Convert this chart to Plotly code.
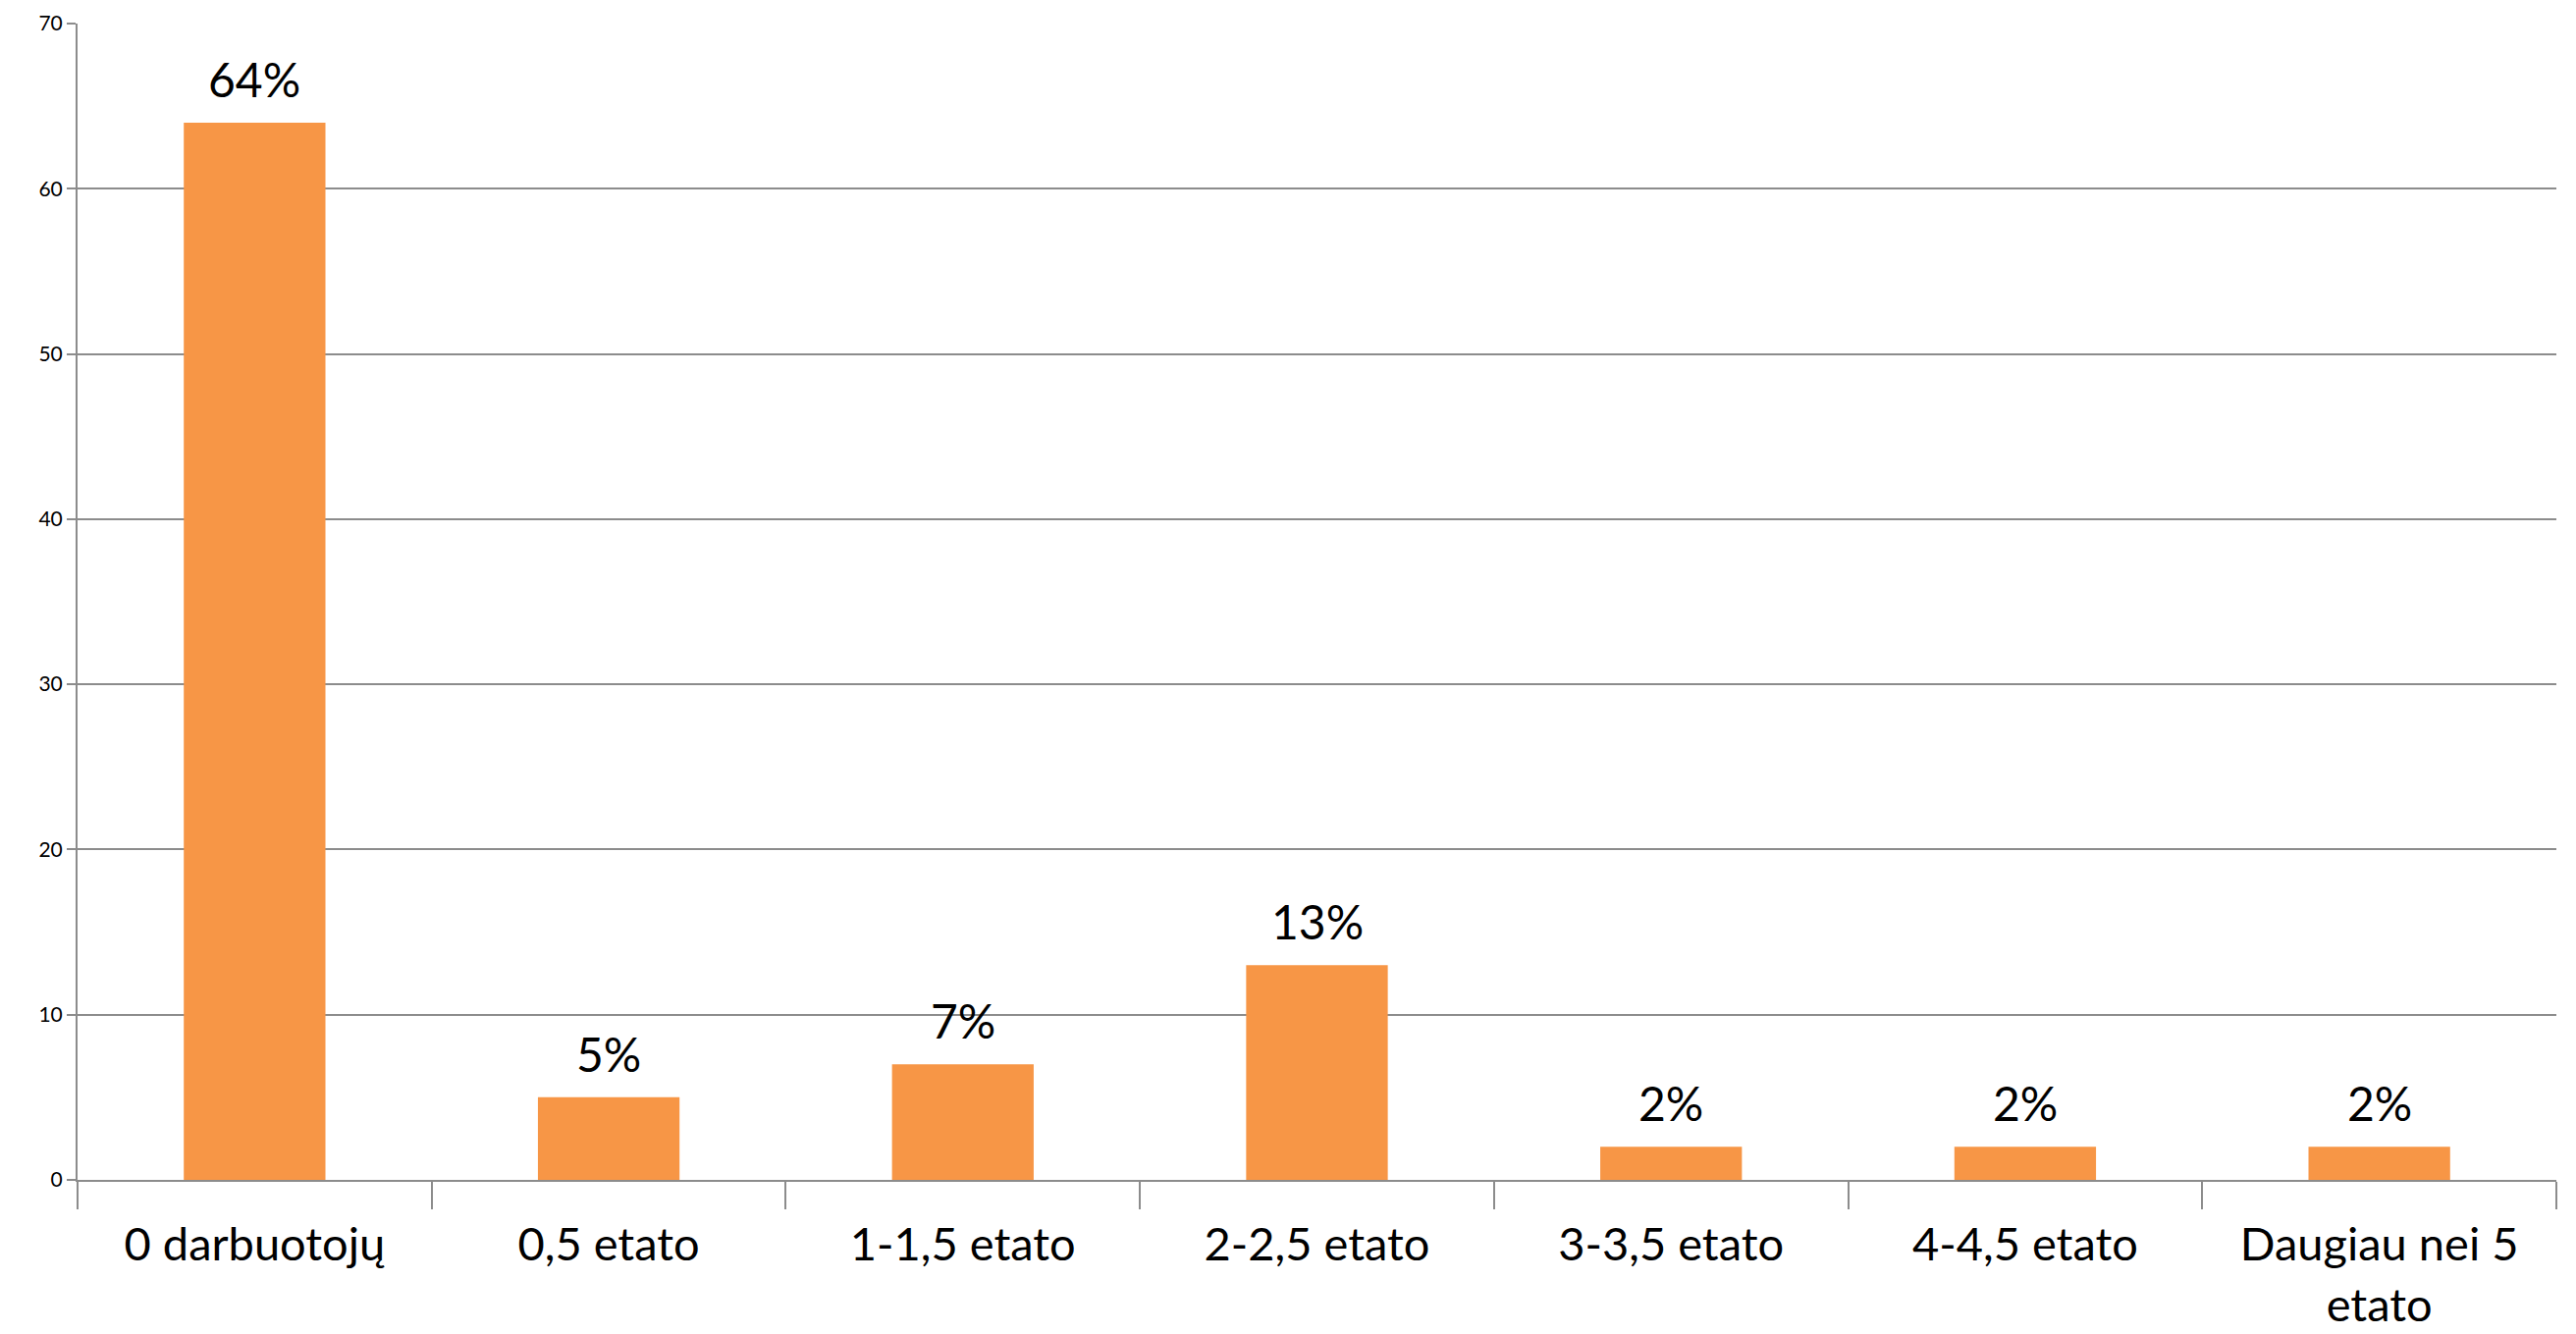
import plotly.graph_objects as go

categories = ["0 darbuotojų", "0,5 etato", "1-1,5 etato", "2-2,5 etato",
              "3-3,5 etato", "4-4,5 etato", "Daugiau nei 5<br>etato"]
values = [64, 5, 7, 13, 2, 2, 2]
labels = ["64%", "5%", "7%", "13%", "2%", "2%", "2%"]
y_ticks = [0, 10, 20, 30, 40, 50, 60, 70]

FONT = "Lato"
GRID = "#8C8C8C"

fig = go.Figure()
fig.add_trace(go.Bar(
    x=categories, y=values,
    marker=dict(color="#F79646", line=dict(width=0)),
    width=0.4,
    hoverinfo="skip",
))

for c, v, t in zip(categories, values, labels):
    fig.add_annotation(x=c, y=v, text=t, showarrow=False, yanchor="bottom",
                       yshift=14, font=dict(family=FONT, size=48, color="#000000"))

fig.update_layout(
    width=2616, height=1351,
    margin=dict(l=71, r=20, t=16, b=157),
    paper_bgcolor="white", plot_bgcolor="white",
    showlegend=False,
    bargap=0.6,
)
fig.update_xaxes(
    type="category", automargin=False,
    showline=True, linecolor=GRID, linewidth=2,
    ticks="outside", tickson="boundaries", ticklen=28, tickcolor=GRID, tickwidth=2,
    tickfont=dict(family=FONT, size=47, color="#000000"),
    ticklabelstandoff=24,
    showgrid=False,
)
fig.update_yaxes(
    range=[0, 70], tickvals=y_ticks, automargin=False,
    ticklabeloverflow="allow",
    showline=True, linecolor=GRID, linewidth=2,
    ticks="outside", ticklen=9, tickcolor=GRID, tickwidth=2,
    tickfont=dict(family=FONT, size=21, color="#000000"),
    showgrid=True, gridcolor=GRID, gridwidth=2,
    zeroline=False,
)

fig.write_html("out.html")
